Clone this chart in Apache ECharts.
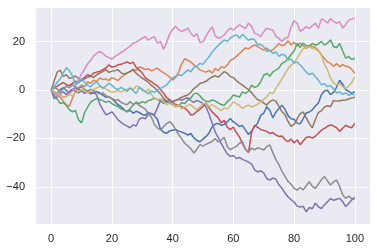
<!DOCTYPE html>
<html>
<head>
<meta charset="utf-8">
<script src="https://cdn.jsdelivr.net/npm/echarts@6/dist/echarts.min.js"></script>
<style>
html,body{margin:0;padding:0;background:#fff;}
#chart{width:377px;height:251px;}
</style>
</head>
<body>
<div id="chart"></div>
<script>
const xTicks = [0, 20, 40, 60, 80, 100];
const yTicks = [-40, -20, 0, 20];
const steps = Array.from({length: 101}, (_, i) => i);

const blue = [0, -0.7, -1.3, 0.2, 1.0, -0.3, -1.1, 0.1, 0.9, 0.3,
  -0.2, -1.4, -0.8, -1.6, -1.3, -0.6, -1.2, -2.1, -3.0, -2.8,
  -3.6, -4.8, -6.1, -6.9, -8.1, -9.0, -8.4, -9.6, -8.8, -9.3,
  -10.1, -10.4, -9.3, -9.9, -10.6, -12.2, -16.1, -17.5, -17.9, -16.9,
  -16.6, -16.3, -17.0, -17.4, -17.9, -18.6, -18.0, -19.8, -20.9, -21.4,
  -20.3, -19.2, -17.8, -15.2, -14.1, -13.8, -14.6, -14.2, -13.1, -11.8,
  -13.2, -14.0, -15.1, -14.7, -16.6, -18.4, -17.0, -15.1, -13.7, -10.5,
  -9.6, -6.9, -8.4, -11.5, -9.2, -7.7, -6.3, -8.0, -10.6, -11.9,
  -12.1, -13.7, -14.0, -11.8, -9.5, -9.1, -8.2, -6.6, -5.4, -2.0,
  -0.4, -0.1, -1.9, -1.0, 1.2, 4.0, 2.4, 0.1, -0.6, -1.4, -0.7];

const orange = [0, -0.8, -1.7, -3.1, -4.6, -6.2, -6.6, -3.4, -0.6, 0.9,
  2.1, 1.4, 3.3, 2.8, 4.1, 3.6, 5.0, 4.3, 4.6, 3.9,
  5.1, 4.6, 3.9, 5.2, 6.1, 7.0, 7.6, 8.6, 8.1, 9.5,
  9.2, 8.4, 8.8, 7.9, 8.5, 9.1, 7.9, 7.2, 6.3, 5.4,
  4.1, 5.2, 7.4, 10.8, 13.0, 12.2, 11.6, 10.4, 9.5, 8.3,
  7.8, 7.4, 8.1, 7.0, 8.9, 8.0, 9.6, 9.2, 10.3, 12.2,
  12.9, 13.9, 15.1, 16.2, 17.4, 17.0, 17.9, 18.6, 17.9, 17.2,
  16.5, 17.3, 16.1, 16.6, 17.9, 19.2, 18.3, 18.8, 20.4, 18.6,
  19.8, 18.2, 19.5, 18.4, 17.2, 18.5, 18.0, 17.6, 16.4, 14.6,
  13.0, 11.6, 11.0, 9.7, 10.9, 9.6, 10.5, 9.8, 9.6, 8.5, 6.9];

const green = [0, -2.1, -3.8, -5.6, -5.2, -6.4, -8.1, -9.0, -8.4, -12.3,
  -13.6, -9.4, -7.1, -5.0, -4.2, -3.5, -3.9, -4.4, -5.1, -4.6,
  -5.6, -6.3, -6.9, -7.8, -8.3, -8.9, -7.7, -6.3, -5.0, -5.6,
  -4.8, -5.3, -4.4, -4.0, -3.4, -3.9, -4.6, -5.5, -4.8, -5.2,
  -6.1, -7.0, -6.4, -5.3, -5.6, -4.2, -3.3, -1.6, -1.3, -2.4,
  -4.0, -4.6, -4.9, -4.1, -4.5, -5.3, -6.0, -6.3, -4.9, -3.7,
  -2.1, -2.5, -2.9, -0.8, -1.4, -0.4, 2.0, 1.1, 1.6, 3.4,
  6.1, 6.9, 5.7, 7.5, 8.2, 9.1, 11.0, 11.6, 12.9, 14.6,
  16.1, 19.2, 17.6, 19.4, 18.3, 18.0, 19.3, 18.6, 19.0, 20.1,
  18.6, 19.4, 20.7, 18.0, 17.6, 19.2, 16.1, 13.2, 13.8, 12.6, 13.1];

const red = [0, 0.9, 1.6, 2.4, 3.1, 2.2, 1.8, 2.7, 3.6, 3.0,
  4.1, 5.2, 6.3, 5.8, 7.0, 7.4, 7.6, 8.4, 9.1, 10.4,
  9.5, 9.7, 10.4, 10.6, 11.1, 11.6, 10.9, 11.5, 9.4, 8.2,
  7.0, 5.1, 4.2, 3.5, 2.4, 1.7, 0.2, -1.3, -3.2, -4.0,
  -5.1, -6.0, -6.4, -6.9, -7.5, -8.6, -10.4, -10.0, -8.8, -7.9,
  -6.8, -5.3, -7.4, -9.0, -10.3, -11.4, -13.6, -12.5, -15.4, -16.4,
  -15.3, -17.6, -19.4, -22.1, -24.5, -25.8, -17.5, -14.6, -15.4, -16.3,
  -16.7, -17.1, -18.0, -17.6, -18.6, -19.2, -19.0, -20.5, -21.4, -20.2,
  -21.9, -20.6, -22.6, -21.1, -19.6, -19.3, -19.9, -19.1, -17.9, -16.6,
  -15.9, -15.0, -14.4, -14.9, -15.6, -17.1, -15.8, -14.6, -15.2, -15.6, -13.8];

const purple = [0, -3.6, -2.9, -1.4, -0.8, -1.9, -0.6, 0.4, -0.5, -1.2,
  -0.3, -1.1, -0.4, -1.3, -0.9, -2.2, -5.8, -8.1, -10.2, -9.8,
  -9.0, -10.6, -12.3, -13.4, -14.2, -14.9, -15.6, -14.4, -14.9, -12.1,
  -11.4, -11.9, -10.1, -9.7, -10.2, -7.4, -4.3, -4.1, -4.9, -5.2,
  -4.7, -4.2, -3.8, -4.3, -3.6, -3.2, -4.4, -5.1, -4.3, -4.8,
  -5.6, -6.9, -10.1, -13.6, -17.3, -19.6, -22.1, -24.3, -26.4, -27.5,
  -27.1, -28.3, -27.9, -28.7, -29.2, -29.8, -30.6, -33.0, -33.9, -33.4,
  -34.3, -36.6, -37.3, -36.4, -36.9, -39.2, -40.6, -42.6, -44.1, -45.3,
  -46.3, -48.0, -48.4, -48.1, -50.4, -48.6, -49.1, -46.8, -48.3, -49.0,
  -47.5, -46.2, -44.9, -45.6, -45.2, -44.8, -46.1, -48.2, -46.9, -45.4, -44.8];

const brown = [0, 3.8, 7.4, 8.2, 5.6, 6.3, 4.9, 5.2, 5.8, 4.7,
  4.0, 4.6, 5.3, 5.7, 5.2, 6.3, 7.0, 7.6, 8.4, 7.3,
  7.8, 8.0, 8.4, 7.1, 6.6, 7.0, 7.7, 8.3, 6.9, 5.9,
  4.9, 4.1, 3.2, 1.9, 1.0, -0.3, -1.6, -3.4, -4.6, -4.1,
  -4.9, -4.4, -3.8, -3.0, -2.5, -2.1, -0.9, 0.6, 1.5, 2.7,
  3.1, 3.6, 4.6, 5.4, 5.9, 5.3, 6.4, 7.6, 6.9, 5.6,
  5.1, 3.9, 2.8, 2.0, 1.1, 0.1, -1.1, -2.7, -4.0, -4.4,
  -5.4, -6.2, -4.8, -4.1, -4.6, -6.8, -8.9, -10.2, -13.0, -15.0,
  -14.2, -11.9, -9.8, -9.1, -11.5, -13.9, -15.6, -12.2, -9.3, -8.6,
  -7.0, -6.5, -6.9, -4.3, -4.6, -4.4, -4.2, -4.1, -3.7, -3.3, -3.0];

const pink = [0, -1.2, -2.5, -1.8, -3.2, -2.4, -1.5, -0.3, 1.8, 4.2,
  6.8, 8.5, 10.9, 12.3, 14.1, 15.2, 16.0, 15.1, 14.0, 13.4,
  12.8, 13.9, 14.6, 15.5, 16.3, 17.2, 18.1, 19.3, 19.8, 20.6,
  21.4, 22.1, 20.6, 21.5, 22.0, 19.4, 20.1, 16.8, 19.6, 23.1,
  25.0, 26.3, 24.9, 24.2, 24.8, 25.6, 23.5, 22.1, 23.4, 19.6,
  19.9, 22.3, 24.4, 26.1, 22.5, 21.4, 21.8, 22.8, 24.3, 25.6,
  24.8, 25.9, 26.9, 26.2, 25.4, 27.6, 26.3, 23.5, 22.9, 22.1,
  24.0, 25.5, 25.1, 24.8, 22.2, 21.3, 20.1, 21.4, 21.8, 26.0,
  28.7, 27.6, 24.3, 25.0, 26.2, 25.4, 26.5, 27.6, 25.5, 29.4,
  28.8, 27.7, 29.5, 28.4, 27.6, 28.2, 25.6, 27.0, 28.9, 29.3, 29.7];

const gray = [0, 1.2, 0.4, -0.8, 0.5, 1.6, 0.9, 2.1, 1.3, 0.6,
  1.4, 0.3, -0.5, 0.2, -0.3, -1.0, -1.6, -1.2, -2.3, -2.9,
  -3.5, -4.2, -4.0, -5.1, -5.7, -6.1, -4.8, -6.0, -5.3, -6.4,
  -7.1, -7.9, -9.6, -11.2, -14.3, -15.7, -16.5, -15.2, -13.9, -13.1,
  -14.3, -16.4, -18.5, -20.2, -22.0, -23.1, -24.3, -26.1, -24.4, -22.6,
  -23.2, -22.4, -21.9, -21.3, -20.1, -21.5, -20.6, -19.6, -23.4, -24.7,
  -23.9, -23.3, -22.0, -21.4, -24.5, -25.6, -24.0, -24.8, -23.9, -24.3,
  -24.8, -23.4, -22.7, -25.9, -28.8, -30.9, -33.6, -35.7, -37.8, -39.0,
  -40.6, -41.4, -40.3, -41.3, -39.6, -37.9, -39.8, -40.7, -38.9, -37.1,
  -35.8, -37.6, -39.3, -38.0, -37.2, -39.9, -43.3, -44.8, -43.9, -44.9, -44.4];

const olive = [0, -0.6, -1.3, -2.2, -3.1, -2.6, -1.9, -2.4, -1.1, -0.4,
  0.2, -0.5, -1.2, -0.6, 0.3, 0.9, 1.5, 1.0, 0.4, -0.3,
  -0.9, -0.6, -0.2, -0.8, -0.1, 0.3, 0.8, 0.2, 1.6, 1.3,
  -0.2, -0.7, 0.4, -1.8, -3.4, -4.0, -3.6, -4.8, -6.1, -5.4,
  -6.3, -6.9, -6.1, -7.8, -7.1, -6.4, -6.0, -7.3, -8.2, -6.9,
  -5.7, -5.3, -6.8, -6.0, -6.9, -7.7, -8.6, -7.4, -7.9, -6.5,
  -4.9, -5.6, -6.4, -7.6, -6.8, -6.3, -7.1, -6.5, -5.9, -4.8,
  -3.9, -2.9, -1.0, -1.5, 0.6, 2.6, 4.6, 6.8, 8.7, 10.3,
  11.4, 13.2, 15.3, 17.1, 17.6, 17.9, 17.2, 16.9, 16.1, 14.4,
  10.6, 8.4, 4.9, 2.9, 2.1, 2.7, 1.4, 0.7, 1.6, 3.1, 5.5];

const cyan = [0, 1.5, 3.2, 4.6, 7.1, 9.2, 8.0, 5.8, 2.3, 3.1,
  4.8, 3.2, 1.9, 1.3, 2.6, 3.5, 1.8, 0.7, 1.6, 2.8,
  1.9, 0.8, 0.2, 1.1, 0.4, -0.6, 0.8, -0.3, -1.4, 1.0,
  0.3, -0.7, -1.6, -0.4, -1.0, -0.2, 0.7, 1.3, 2.1, 3.6,
  5.1, 5.6, 6.3, 6.0, 7.2, 8.3, 7.5, 9.4, 9.9, 11.0,
  10.6, 12.3, 13.7, 15.6, 17.1, 18.4, 19.6, 20.7, 20.1, 21.5,
  22.3, 22.8, 21.4, 23.0, 21.8, 20.6, 21.2, 20.8, 18.7, 18.9,
  17.9, 15.9, 16.4, 15.1, 15.8, 13.9, 14.8, 14.4, 12.4, 12.7,
  11.1, 11.6, 10.3, 9.0, 7.4, 6.3, 7.0, 5.5, 4.1, 2.1,
  2.6, 1.4, 1.9, 0.5, -1.3, -0.8, -1.8, -1.2, -2.2, -1.7, -2.0];

const seriesValues = [blue, orange, green, red, purple, brown, pink, gray, olive, cyan];
const seriesColors = ['#4c72b0', '#dd8452', '#55a868', '#c44e52', '#8172b3',
  '#937860', '#da8bc3', '#8c8c8c', '#ccb974', '#64b5cd'];

const chart = echarts.init(document.getElementById('chart'), null, {renderer: 'canvas'});
const labelStyle = {
  color: '#262626',
  fontSize: 11,
  fontFamily: 'Liberation Sans, Arial, sans-serif',
  formatter: v => String(v).replace('-', '\u2212')
};
chart.setOption({
  animation: false,
  grid: {
    left: 36, right: 7, top: 8, bottom: 27,
    show: true, backgroundColor: '#eaeaf2', borderWidth: 0,
    containLabel: false, outerBoundsMode: 'none'
  },
  xAxis: {
    type: 'value', min: -5, max: 105,
    axisLine: {show: false},
    axisTick: {show: false, customValues: xTicks},
    axisLabel: Object.assign({customValues: xTicks, margin: 9}, labelStyle),
    splitLine: {show: true, lineStyle: {color: '#ffffff', width: 1}}
  },
  yAxis: {
    type: 'value', min: -55.4, max: 33.9,
    axisLine: {show: false},
    axisTick: {show: false, customValues: yTicks},
    axisLabel: Object.assign({customValues: yTicks, margin: 11}, labelStyle),
    splitLine: {show: true, lineStyle: {color: '#ffffff', width: 1}}
  },
  series: seriesValues.map((vals, k) => ({
    type: 'line',
    data: steps.map((s, i) => [s, vals[i]]),
    showSymbol: false,
    symbol: 'none',
    lineStyle: {color: seriesColors[k], width: 1.5},
    itemStyle: {color: seriesColors[k]},
    silent: true
  }))
});
</script>
</body>
</html>
